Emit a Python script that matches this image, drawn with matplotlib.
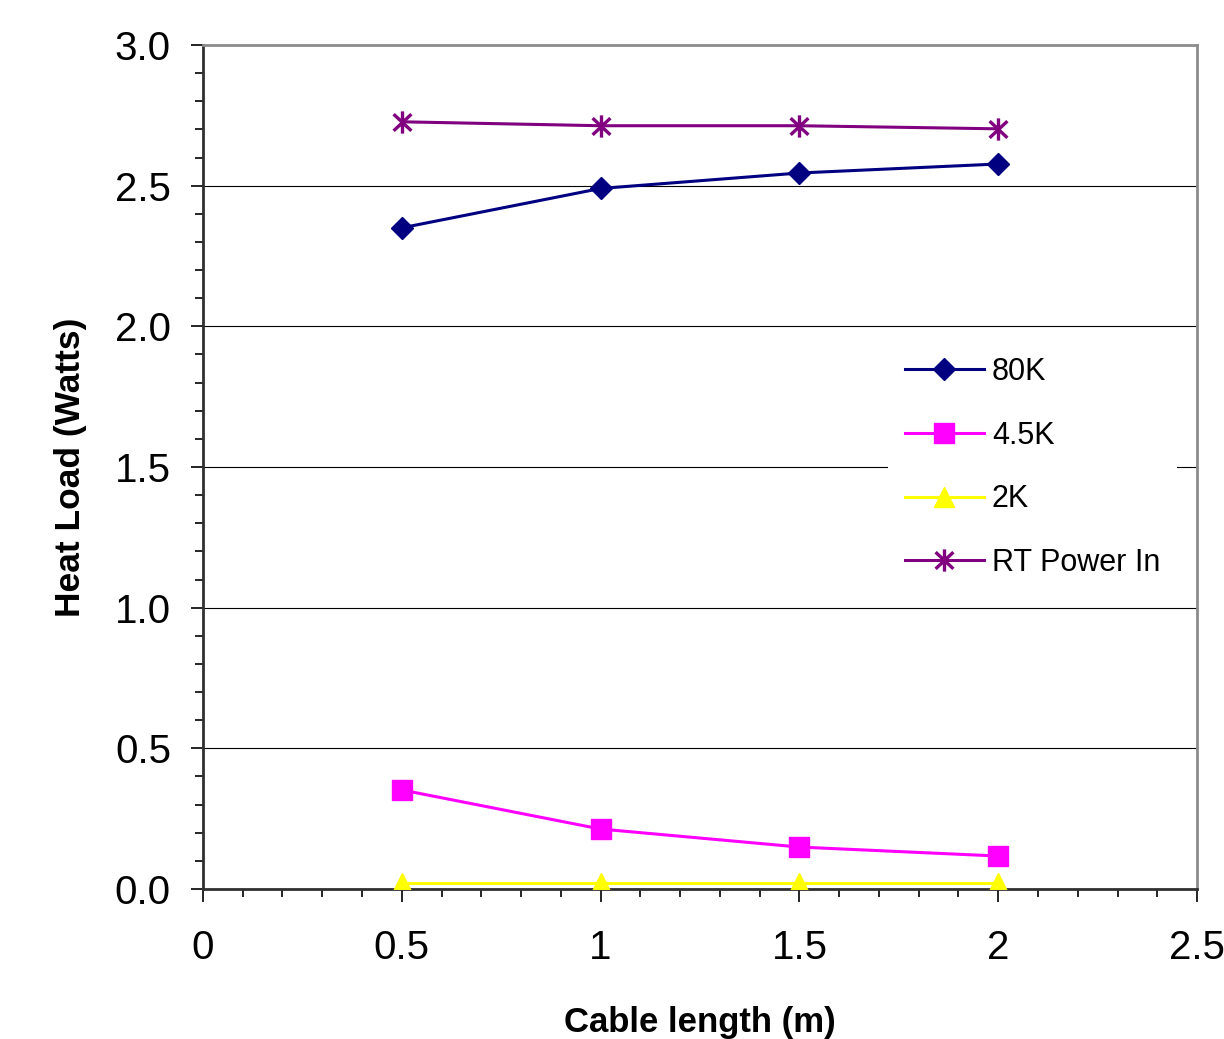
import matplotlib
matplotlib.use('Agg')
import matplotlib.pyplot as plt
from matplotlib.path import Path
from matplotlib.ticker import MultipleLocator, FormatStrFormatter, FuncFormatter

plt.rcParams['font.family'] = ['Liberation Sans', 'DejaVu Sans']

cable_length = [0.5, 1.0, 1.5, 2.0]
load_80k = [2.35, 2.49, 2.545, 2.577]
load_4k5 = [0.352, 0.213, 0.149, 0.117]
load_2k = [0.02, 0.02, 0.02, 0.02]
rt_power_in = [2.727, 2.713, 2.713, 2.702]

# Excel-style asterisk marker: X with a vertical bar
asterisk = Path(
    [(-0.8, -0.75), (0.8, 0.75), (-0.8, 0.75), (0.8, -0.75), (0, -1), (0, 1)],
    [Path.MOVETO, Path.LINETO, Path.MOVETO, Path.LINETO, Path.MOVETO, Path.LINETO],
)

fig = plt.figure(figsize=(12.24, 10.39), dpi=100)
ax = fig.add_axes([0.1658, 0.1444, 0.8122, 0.8123])

lw = 2.2
ax.plot(cable_length, load_80k, color='#000080', lw=lw, marker='D', ms=11.5,
        label='80K', zorder=3)
ax.plot(cable_length, load_4k5, color='#FF00FF', lw=lw, marker='s', ms=14,
        label='4.5K', zorder=3)
ax.plot(cable_length, load_2k, color='#FFFF00', lw=lw, marker='^', ms=15,
        label='2K', zorder=3)
ax.plot(cable_length, rt_power_in, color='#800080', lw=lw, marker=asterisk, ms=16,
        mew=2.4, mfc='none', mec='#800080', label='RT Power In', zorder=3)

ax.set_xlim(0, 2.5)
ax.set_ylim(0, 3.0)
ax.xaxis.set_major_locator(MultipleLocator(0.5))
ax.xaxis.set_minor_locator(MultipleLocator(0.1))
ax.yaxis.set_major_locator(MultipleLocator(0.5))
ax.yaxis.set_minor_locator(MultipleLocator(0.1))
ax.yaxis.set_major_formatter(FormatStrFormatter('%.1f'))
ax.xaxis.set_major_formatter(FuncFormatter(lambda v, p: f'{v:g}'))

ax.grid(axis='y', which='major', color='black', lw=0.8)
ax.set_axisbelow(True)

ax.tick_params(axis='both', which='major', direction='out', length=9, width=1.2,
               labelsize=29, color='black')
ax.tick_params(axis='both', which='minor', direction='out', length=6, width=1.2,
               color='black')
ax.tick_params(axis='x', which='major', pad=20)
ax.tick_params(axis='y', which='major', pad=14)

for side in ['top', 'right']:
    ax.spines[side].set_color('#8c8c8c')
    ax.spines[side].set_linewidth(2)
for side in ['left', 'bottom']:
    ax.spines[side].set_color('#303030')
    ax.spines[side].set_linewidth(2)

ax.set_xlabel('Cable length (m)', fontsize=25, fontweight='bold', labelpad=28)
ax.set_ylabel('Heat Load (Watts)', fontsize=25.5, fontweight='bold', labelpad=20)

leg = ax.legend(loc='upper left', bbox_to_anchor=(0.689, 0.65), fontsize=22,
                frameon=True, fancybox=False, framealpha=1, facecolor='white',
                edgecolor='none', handlelength=2.6, handletextpad=0.25,
                labelspacing=1.1, borderpad=0.55, borderaxespad=0)
leg.set_zorder(2.5)

fig.savefig('out.png', dpi=100)
